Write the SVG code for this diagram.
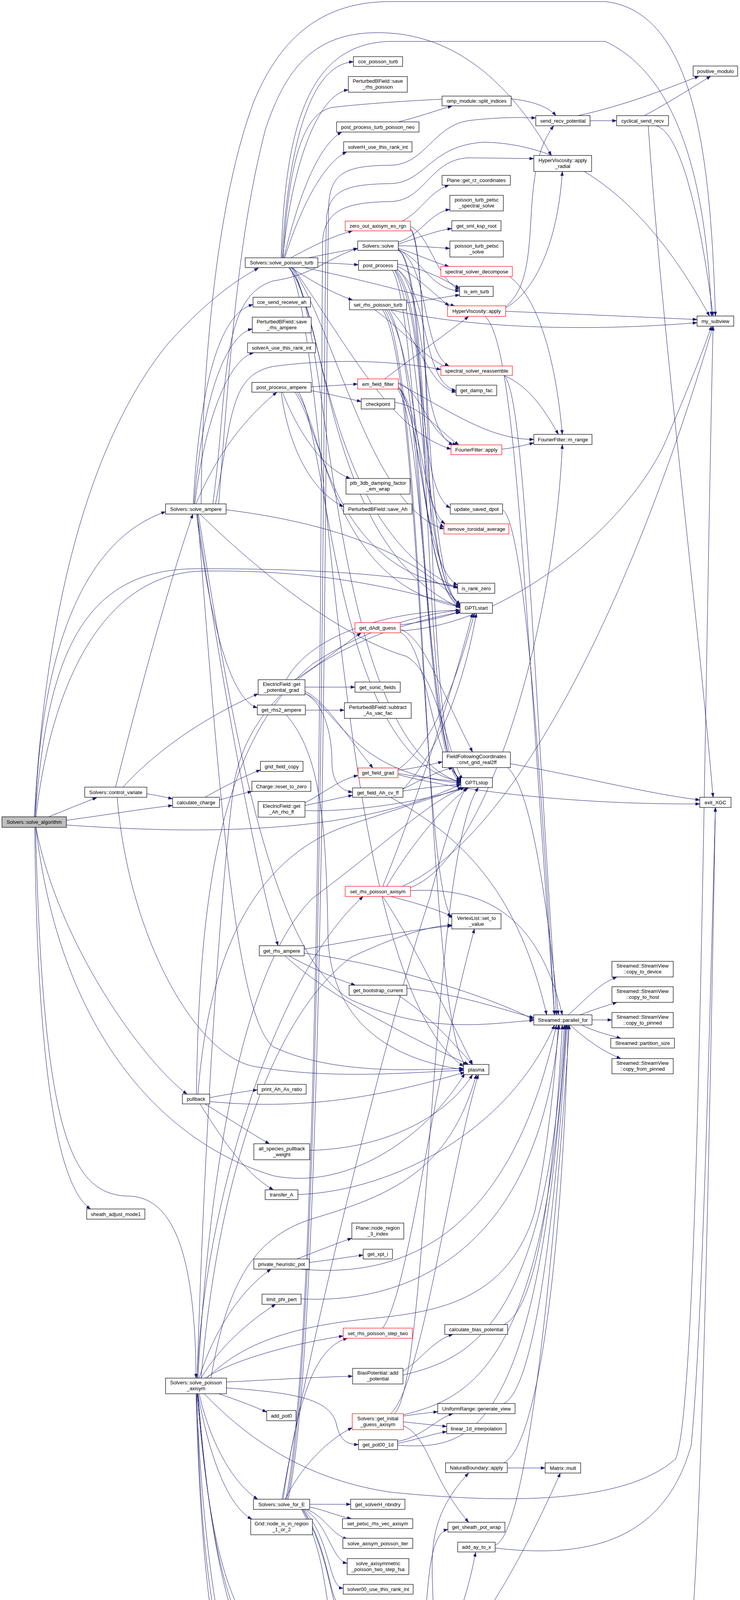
<svg xmlns="http://www.w3.org/2000/svg" width="1895" height="4575" viewBox="0 0 1895 4575">
<style>
.node rect{fill:#ffffff;stroke:#000000;stroke-width:1.2}
.node.red rect{stroke:#ff0000}
.node.root rect{fill:#bfbfbf}
.node text{font-family:"Liberation Sans",Arial,Helvetica,sans-serif;font-size:13px;fill:#000000;text-anchor:middle}
#edges path{fill:none;stroke:#191970;stroke-width:1;marker-end:url(#arr)}
</style>
<defs>
<marker id="arr" markerUnits="userSpaceOnUse" markerWidth="11" markerHeight="8" viewBox="0 0 11 8" refX="11" refY="4" orient="auto">
<path d="M0,0 L11,4 L0,8 z" fill="#191970" stroke="#191970" stroke-width="0.5"/>
</marker>
</defs>
<rect x="0" y="0" width="1895" height="4575" fill="#ffffff"/>
<g id="edges">
<path d="M 88 2091 C 120 1500 250 1100 430 880 C 530 770 600 720 662 686"/>
<path d="M 90 2091 C 105 1650 220 1380 424 1310"/>
<path d="M 125 2091 C 165 2075 205 2058 248 2042"/>
<path d="M 170 2100 C 280 2085 370 2070 442 2062"/>
<path d="M 92 2118 C 150 2420 370 2720 479 2801"/>
<path d="M 89 2118 C 95 2750 150 3040 232 3095"/>
<path d="M 91 2118 C 110 2900 180 3060 330 3062 C 440 3065 500 3200 502 3528"/>
<path d="M 515 1290 C 518 900 560 500 650 260 C 720 90 830 4 1000 4 L 1550 4 C 1780 30 1820 400 1832 809"/>
<path d="M 560 1290 C 590 900 610 600 680 330 C 730 180 800 90 950 84 C 1150 76 1300 200 1412 398"/>
<path d="M 545 1290 C 585 1000 560 760 700 719 C 800 705 840 660 916 636"/>
<path d="M 552 1290 C 595 1060 590 960 700 938 C 850 918 1000 922 1129 946"/>
<path d="M 90 2091 C 120 1700 200 1458 500 1456 C 800 1455 1000 1470 1172 1502"/>
<path d="M 92 2091 C 130 1760 260 1466 520 1462 C 800 1458 1000 1500 1178 1552"/>
<path d="M 170 2112 C 500 2135 900 2140 1180 2008"/>
<path d="M 92 2118 C 150 2620 400 2920 700 3010 C 900 3050 1100 2900 1190 2748"/>
<path d="M 296 2015 C 350 1800 430 1500 494 1316"/>
<path d="M 315 2015 C 420 1900 560 1820 661 1776"/>
<path d="M 376 2032 C 400 2036 420 2040 442 2045"/>
<path d="M 300 2041 C 330 2400 500 2700 650 2730 C 850 2765 1050 2745 1187 2740"/>
<path d="M 525 2041 C 580 2010 630 1985 667 1971"/>
<path d="M 562 2048 C 590 2040 620 2032 645 2026"/>
<path d="M 537 2810 C 580 2802 620 2795 659 2790"/>
<path d="M 525 2826 C 580 2860 640 2900 690 2928"/>
<path d="M 512 2826 C 560 2900 620 3000 700 3046"/>
<path d="M 537 2820 C 800 2845 1000 2800 1190 2745"/>
<path d="M 503 2801 C 510 2300 560 1900 800 1700 C 950 1600 1100 1570 1178 1562"/>
<path d="M 507 2801 C 530 2500 620 2200 900 2110 C 1050 2060 1150 2030 1183 2016"/>
<path d="M 495 1290 C 510 1000 560 800 648 780"/>
<path d="M 497 1290 C 515 1050 570 860 646 842"/>
<path d="M 499 1290 C 520 1100 580 920 650 903"/>
<path d="M 502 1290 C 560 1150 640 1060 709 1004"/>
<path d="M 503 1316 C 540 1600 590 1790 659 1812"/>
<path d="M 505 1316 C 560 1700 650 2200 712 2421"/>
<path d="M 579 1305 C 860 1340 1070 1420 1178 1548"/>
<path d="M 512 1316 C 700 1500 900 1640 1040 1680 C 1120 1720 1150 1950 1185 1995"/>
<path d="M 506 1316 C 560 2000 600 2600 700 2680 C 850 2750 1050 2740 1187 2735"/>
<path d="M 508 1316 C 600 1900 700 2450 900 2560 C 1100 2650 1250 2620 1367 2612"/>
<path d="M 722 660 C 740 350 800 165 905 158"/>
<path d="M 724 660 C 750 400 820 240 892 230"/>
<path d="M 727 660 C 770 480 820 370 875 338"/>
<path d="M 729 660 C 780 500 840 410 888 389"/>
<path d="M 745 660 C 800 630 850 605 903 591"/>
<path d="M 790 660 C 840 650 880 642 916 636"/>
<path d="M 814 672 C 850 674 890 676 918 678"/>
<path d="M 743 684 C 800 720 850 750 903 768"/>
<path d="M 774 684 C 900 710 1100 760 1165 784"/>
<path d="M 725 660 C 740 400 780 290 850 275 C 1000 258 1200 250 1260 250 C 1350 252 1400 270 1424 296"/>
<path d="M 720 660 C 730 300 800 110 1000 106 L 1550 106 C 1750 200 1810 500 1822 809"/>
<path d="M 740 684 C 840 800 830 1400 1178 1556"/>
<path d="M 745 684 C 850 820 840 1900 1180 2003"/>
<path d="M 738 684 C 830 780 830 1350 1172 1506"/>
<path d="M 750 684 C 900 900 1000 1100 1155 1150"/>
<path d="M 748 684 C 860 850 950 1300 1137 1354"/>
<path d="M 742 684 C 850 900 850 2500 1187 2730"/>
<path d="M 1020 312 C 1070 300 1110 285 1158 271"/>
<path d="M 1030 566 C 1080 540 1100 490 1150 474"/>
<path d="M 1051 580 C 1100 600 1120 720 1177 741"/>
<path d="M 1051 585 C 1100 620 1080 1500 1180 1550"/>
<path d="M 1051 588 C 1110 640 1085 1950 1181 1998"/>
<path d="M 1020 620 C 1080 600 1100 545 1152 536"/>
<path d="M 1020 625 C 1080 605 1120 590 1157 585"/>
<path d="M 1020 629 C 1080 630 1120 634 1152 636"/>
<path d="M 1020 636 C 1080 655 1110 672 1150 682"/>
<path d="M 1020 638 C 1100 680 1080 900 1150 937"/>
<path d="M 1020 640 C 1080 660 1100 740 1177 745"/>
<path d="M 1020 640 C 1100 680 1070 1500 1179 1548"/>
<path d="M 1020 641 C 1110 690 1075 1950 1180 1996"/>
<path d="M 1018 676 C 1100 690 1150 725 1177 737"/>
<path d="M 1018 682 C 1060 700 1120 760 1150 783"/>
<path d="M 1018 690 C 1100 750 1080 980 1168 1000"/>
<path d="M 1018 690 C 1100 760 1070 1100 1160 1139"/>
<path d="M 1015 692 C 1100 800 1060 1250 1153 1300"/>
<path d="M 1012 692 C 1100 820 1065 1300 1137 1350"/>
<path d="M 1010 692 C 1080 800 1080 1500 1180 1550"/>
<path d="M 1005 692 C 1080 820 1080 1950 1182 2000"/>
<path d="M 1041 775 C 1100 768 1140 760 1177 755"/>
<path d="M 1000 793 C 1200 840 1500 850 1785 826"/>
<path d="M 960 793 C 1050 860 1100 930 1150 940"/>
<path d="M 1000 793 C 1080 880 1100 990 1168 1004"/>
<path d="M 980 793 C 1080 950 1080 2300 1160 2350"/>
<path d="M 985 793 C 1090 950 1090 2650 1195 2728"/>
<path d="M 990 793 C 1090 950 1070 1500 1180 1556"/>
<path d="M 995 793 C 1095 950 1075 1950 1182 2005"/>
<path d="M 1295 788 C 1380 740 1430 600 1440 439"/>
<path d="M 1295 785 C 1400 700 1320 450 1418 322"/>
<path d="M 1295 797 C 1500 805 1650 812 1785 818"/>
<path d="M 1242 810 C 1320 880 1340 1500 1420 2598"/>
<path d="M 1305 708 C 1400 780 1430 1000 1440 1112"/>
<path d="M 1290 961 C 1360 990 1400 1060 1430 1112"/>
<path d="M 1290 961 C 1340 1000 1360 1600 1425 2598"/>
<path d="M 1285 1150 C 1320 1146 1340 1140 1367 1134"/>
<path d="M 985 970 C 1050 920 1150 850 1200 810"/>
<path d="M 1020 980 C 1080 1000 1100 1120 1170 1139"/>
<path d="M 1020 982 C 1150 1050 1250 1125 1367 1125"/>
<path d="M 1020 990 C 1080 1050 1080 1300 1140 1341"/>
<path d="M 1020 992 C 1080 1050 1080 1450 1172 1498"/>
<path d="M 1020 994 C 1085 1060 1085 1500 1179 1553"/>
<path d="M 1018 996 C 1090 1080 1090 1950 1182 1999"/>
<path d="M 797 990 C 850 988 880 985 916 983"/>
<path d="M 797 1000 C 850 1010 890 1020 925 1028"/>
<path d="M 723 1004 C 770 1120 830 1200 897 1225"/>
<path d="M 720 1004 C 740 1150 800 1260 880 1297"/>
<path d="M 760 1004 C 830 1100 850 1500 1178 1553"/>
<path d="M 765 1004 C 840 1120 860 1950 1181 2001"/>
<path d="M 755 1004 C 825 1100 845 1450 1172 1504"/>
<path d="M 1011 1030 C 1080 1040 1120 1100 1175 1139"/>
<path d="M 1287 1305 C 1340 1340 1380 1900 1420 2598"/>
<path d="M 755 1740 C 820 1700 880 1650 925 1620"/>
<path d="M 781 1759 L 909 1759"/>
<path d="M 781 1770 C 830 1790 900 1900 955 1966"/>
<path d="M 733 1740 C 800 1620 1000 1565 1178 1562"/>
<path d="M 781 1775 C 860 1810 900 1980 1180 2005"/>
<path d="M 781 1775 C 830 1800 850 1880 850 1950 C 850 2010 880 2025 903 2028"/>
<path d="M 782 1818 L 882 1818"/>
<path d="M 733 1830 C 820 1930 835 2100 840 2400 C 850 2650 1050 2720 1187 2738"/>
<path d="M 1025 1600 C 1100 1590 1150 1575 1178 1566"/>
<path d="M 1025 1610 C 1090 1640 1120 1750 1210 1925"/>
<path d="M 1025 1615 C 1300 1600 1600 1350 1700 1140 C 1760 1000 1800 900 1822 835"/>
<path d="M 1025 1618 C 1100 1660 1100 1950 1185 1998"/>
<path d="M 1019 1972 C 1070 1965 1100 1958 1133 1950"/>
<path d="M 1019 1970 C 1120 1900 1180 1700 1215 1570"/>
<path d="M 1019 1980 C 1080 1990 1130 1997 1180 2001"/>
<path d="M 1019 1983 C 1200 2030 1500 2060 1792 2058"/>
<path d="M 1032 2025 C 1100 2015 1150 2010 1180 2008"/>
<path d="M 1032 2020 C 1100 1950 1180 1800 1220 1570"/>
<path d="M 1032 2020 C 1080 1995 1120 1975 1160 1965"/>
<path d="M 1000 2041 C 1200 2150 1330 2300 1400 2598"/>
<path d="M 1307 1955 C 1500 1990 1650 2030 1792 2048"/>
<path d="M 1300 1965 C 1360 2020 1400 2300 1430 2598"/>
<path d="M 781 2055 C 830 2030 870 1995 917 1985"/>
<path d="M 781 2062 C 830 2052 870 2042 903 2036"/>
<path d="M 781 2075 C 900 2080 1100 2050 1190 2016"/>
<path d="M 1000 2295 C 1080 2315 1120 2330 1157 2345"/>
<path d="M 980 2295 C 1050 2400 1150 2600 1210 2725"/>
<path d="M 980 2269 C 1050 2100 1150 1800 1210 1570"/>
<path d="M 990 2269 C 1060 2150 1150 2050 1200 2016"/>
<path d="M 1030 2269 C 1300 2150 1600 1600 1826 835"/>
<path d="M 1051 2280 C 1250 2270 1380 2350 1440 2598"/>
<path d="M 1051 2272 C 1250 2200 1420 1600 1440 1138"/>
<path d="M 779 2430 C 900 2410 1050 2380 1157 2370"/>
<path d="M 740 2447 C 800 2480 870 2510 910 2522"/>
<path d="M 730 2447 C 850 2560 1100 2680 1200 2725"/>
<path d="M 779 2440 C 1000 2470 1250 2550 1367 2610"/>
<path d="M 1042 2530 C 1200 2550 1300 2590 1367 2605"/>
<path d="M 1020 2548 C 1100 2600 1170 2680 1210 2725"/>
<path d="M 1455 2598 C 1500 2560 1530 2520 1580 2501"/>
<path d="M 1485 2598 C 1520 2585 1550 2575 1580 2566"/>
<path d="M 1516 2611 L 1567 2611"/>
<path d="M 1490 2624 C 1520 2640 1560 2650 1590 2658"/>
<path d="M 1460 2624 C 1500 2660 1540 2690 1590 2710"/>
<path d="M 793 2945 C 1000 2940 1150 2850 1210 2751"/>
<path d="M 763 3058 C 1000 3050 1300 2900 1420 2624"/>
<path d="M 760 3223 C 820 3200 870 3180 901 3170"/>
<path d="M 792 3232 C 850 3225 890 3218 930 3213"/>
<path d="M 770 3249 C 1000 3270 1300 3200 1425 2624"/>
<path d="M 771 3325 C 1050 3340 1380 3200 1432 2624"/>
<path d="M 980 3400 C 1050 3300 1100 2800 1215 2378"/>
<path d="M 1290 3391 C 1380 3350 1420 3000 1440 2624"/>
<path d="M 1032 3510 C 1080 3480 1110 3430 1160 3416"/>
<path d="M 1032 3520 C 1200 3480 1400 3400 1445 2624"/>
<path d="M 1033 3625 C 1070 3620 1100 3616 1121 3614"/>
<path d="M 1033 3640 C 1080 3645 1110 3648 1144 3652"/>
<path d="M 1033 3650 C 1100 3680 1100 3780 1200 3897"/>
<path d="M 1010 3619 C 1100 3540 1100 2200 1225 2016"/>
<path d="M 1000 3619 C 1080 3550 1150 3000 1225 2751"/>
<path d="M 1033 3622 C 1200 3580 1400 3500 1448 2624"/>
<path d="M 1018 3690 C 1080 3680 1120 3630 1160 3619"/>
<path d="M 1018 3695 C 1070 3685 1110 3670 1144 3665"/>
<path d="M 1018 3700 C 1200 3710 1380 3700 1450 2624"/>
<path d="M 1290 3593 C 1380 3550 1430 3000 1452 2624"/>
<path d="M 1299 3758 L 1396 3758"/>
<path d="M 1290 3745 C 1380 3700 1440 3200 1455 2624"/>
<path d="M 1268 3955 C 1330 3940 1400 3500 1458 2624"/>
<path d="M 1268 3963 C 1500 3990 1700 3950 1770 3700 C 1800 3400 1820 2500 1832 2067"/>
<path d="M 791 4480 C 1000 4440 1200 4300 1435 3771"/>
<path d="M 505 3528 C 520 3100 700 2500 930 2295"/>
<path d="M 510 3528 C 550 3400 620 3300 694 3249"/>
<path d="M 515 3528 C 560 3450 640 3380 706 3339"/>
<path d="M 525 3528 C 600 3480 750 3440 879 3420"/>
<path d="M 580 3538 C 700 3532 800 3526 903 3523"/>
<path d="M 560 3568 C 610 3585 650 3600 683 3615"/>
<path d="M 580 3553 C 750 3565 840 3580 860 3640 C 870 3690 890 3698 918 3698"/>
<path d="M 510 3568 C 540 3700 600 3800 660 3838"/>
<path d="M 507 3568 C 540 3750 590 3860 645 3889"/>
<path d="M 503 3568 C 520 4000 580 4380 660 4415"/>
<path d="M 502 3568 C 515 4100 570 4430 651 4475"/>
<path d="M 505 3568 C 540 4000 600 4240 800 4270 C 950 4290 1060 4260 1080 4200 C 1100 4100 1090 3930 1147 3915"/>
<path d="M 506 3568 C 545 4050 610 4290 800 4310 C 1000 4330 1110 4300 1110 4150 C 1110 4000 1080 3900 1200 3771"/>
<path d="M 507 3568 C 550 4100 620 4330 800 4350 C 1000 4370 1150 4330 1218 3974"/>
<path d="M 504 3568 C 520 4300 620 4560 900 4545 C 1300 4540 1720 4540 1770 4200 C 1800 3800 1815 3000 1832 2067"/>
<path d="M 523 3568 C 650 3700 800 3790 1000 3820 C 1300 3850 1600 3850 1730 3735 C 1790 3600 1800 2000 1826 835"/>
<path d="M 540 3528 C 580 3300 640 3170 800 3120 C 1000 3060 1150 3000 1220 2751"/>
<path d="M 505 3528 C 520 3000 560 2300 600 2000 C 660 1700 1000 1600 1182 1566"/>
<path d="M 507 3528 C 530 3100 600 2500 800 2300 C 1000 2150 1100 2050 1190 2016"/>
<path d="M 515 3528 C 560 3000 700 2600 900 2450 C 1050 2380 1120 2370 1157 2368"/>
<path d="M 530 3528 C 600 3460 700 3400 945 3376 C 1100 3360 1300 3340 1370 3100 C 1410 2900 1425 2700 1430 2624"/>
<path d="M 793 3851 L 898 3851"/>
<path d="M 793 3858 C 830 3865 860 3880 900 3888"/>
<path d="M 785 3864 C 830 3880 850 3930 890 3940"/>
<path d="M 780 3864 C 840 3900 850 3995 889 4002"/>
<path d="M 778 3864 C 850 3950 840 4062 879 4066"/>
<path d="M 776 3864 C 850 3980 840 4112 880 4116"/>
<path d="M 774 3864 C 860 4000 840 4165 905 4168"/>
<path d="M 772 3864 C 860 4020 820 4216 897 4219"/>
<path d="M 730 3838 C 780 3740 850 3680 902 3655"/>
<path d="M 725 3838 C 760 3600 800 3450 890 3426"/>
<path d="M 722 3838 C 800 3400 1000 2600 1100 2300 C 1140 2150 1170 2050 1195 2016"/>
<path d="M 735 3838 C 830 3400 826 900 836 560 C 842 480 900 472 1000 470 C 1090 468 1100 372 1240 364 C 1500 370 1680 560 1817 809"/>
<path d="M 732 3838 C 826 3400 822 1000 826 620 C 830 530 900 518 1000 516 C 1090 514 1100 408 1200 404 L 1367 406"/>
<path d="M 738 3838 C 836 3400 832 900 842 520 C 848 440 890 424 1000 423 C 1090 422 1110 318 1206 308 C 1280 300 1330 300 1372 302"/>
<path d="M 1650 296 C 1700 270 1780 220 1820 195"/>
<path d="M 1680 322 C 1750 340 1800 600 1826 809"/>
<path d="M 1660 322 C 1700 900 1780 1500 1826 2041"/>
<path d="M 1511 309 L 1579 309"/>
<path d="M 1480 296 C 1600 270 1700 230 1790 195"/>
</g>
<g id="n_solve_algorithm" class="node root"><rect x="5" y="2091" width="165" height="27"/><text x="87.5" y="2109">Solvers::solve_algorithm</text></g>
<g id="n_control_variate" class="node"><rect x="217" y="2015" width="159" height="26"/><text x="296.5" y="2032.5">Solvers::control_variate</text></g>
<g id="n_calculate_charge" class="node"><rect x="442" y="2041" width="120" height="26"/><text x="502" y="2058.5">calculate_charge</text></g>
<g id="n_pullback" class="node"><rect x="467" y="2801" width="70" height="25"/><text x="502" y="2818">pullback</text></g>
<g id="n_sheath_adjust_mode1" class="node"><rect x="222" y="3095" width="149" height="26"/><text x="296.5" y="3112.5">sheath_adjust_mode1</text></g>
<g id="n_solve_poisson_turb" class="node"><rect x="628" y="660" width="186" height="25"/><text x="721" y="677">Solvers::solve_poisson_turb</text></g>
<g id="n_solve_ampere" class="node"><rect x="424" y="1290" width="155" height="26"/><text x="501.5" y="1307.5">Solvers::solve_ampere</text></g>
<g id="n_solve_poisson_axisym" class="node"><rect x="424" y="3528" width="156" height="40"/><text x="502" y="3544">Solvers::solve_poisson</text><text x="502" y="3559">_axisym</text></g>
<g id="n_cce_send_receive_ah" class="node"><rect x="648" y="761" width="147" height="25"/><text x="721.5" y="778">cce_send_receive_ah</text></g>
<g id="n_save_rhs_ampere" class="node"><rect x="646" y="812" width="151" height="40"/><text x="721.5" y="828">PerturbedBField::save</text><text x="721.5" y="843">_rhs_ampere</text></g>
<g id="n_solverA_use_this_rank_int" class="node"><rect x="634" y="878" width="174" height="25"/><text x="721" y="895">solverA_use_this_rank_int</text></g>
<g id="n_post_process_ampere" class="node"><rect x="645" y="979" width="152" height="25"/><text x="721" y="996">post_process_ampere</text></g>
<g id="n_get_potential_grad" class="node"><rect x="661" y="1740" width="120" height="39"/><text x="721" y="1755.5">ElectricField::get</text><text x="721" y="1770.5">_potential_grad</text></g>
<g id="n_get_rhs2_ampere" class="node"><rect x="659" y="1805" width="123" height="25"/><text x="720.5" y="1822">get_rhs2_ampere</text></g>
<g id="n_grid_field_copy" class="node"><rect x="667" y="1949" width="109" height="26"/><text x="721.5" y="1966.5">grid_field_copy</text></g>
<g id="n_reset_to_zero" class="node"><rect x="645" y="2000" width="151" height="26"/><text x="720.5" y="2017.5">Charge::reset_to_zero</text></g>
<g id="n_get_Ah_rho_ff" class="node"><rect x="661" y="2052" width="120" height="40"/><text x="721" y="2068">ElectricField::get</text><text x="721" y="2083">_Ah_rho_ff</text></g>
<g id="n_get_rhs_ampere" class="node"><rect x="664" y="2421" width="115" height="26"/><text x="721.5" y="2438.5">get_rhs_ampere</text></g>
<g id="n_print_Ah_As_ratio" class="node"><rect x="659" y="2776" width="125" height="25"/><text x="721.5" y="2793">print_Ah_As_ratio</text></g>
<g id="n_all_species_pullback_weight" class="node"><rect x="650" y="2928" width="143" height="41"/><text x="721.5" y="2944.5">all_species_pullback</text><text x="721.5" y="2959.5">_weight</text></g>
<g id="n_transfer_A" class="node"><rect x="679" y="3046" width="84" height="25"/><text x="721" y="3063">transfer_A</text></g>
<g id="n_private_heuristic_pot" class="node"><rect x="650" y="3223" width="142" height="26"/><text x="721" y="3240.5">private_heuristic_pot</text></g>
<g id="n_limit_phi_pert" class="node"><rect x="671" y="3313" width="100" height="26"/><text x="721" y="3330.5">limit_phi_pert</text></g>
<g id="n_add_pot0" class="node"><rect x="683" y="3611" width="75" height="26"/><text x="720.5" y="3628.5">add_pot0</text></g>
<g id="n_solve_for_E" class="node"><rect x="649" y="3838" width="144" height="26"/><text x="721" y="3855.5">Solvers::solve_for_E</text></g>
<g id="n_node_is_in_region" class="node"><rect x="642" y="3889" width="158" height="40"/><text x="721" y="3905">Grid::node_is_in_region</text><text x="721" y="3920">_1_or_2</text></g>
<g id="n_positive_phi00_sol" class="node"><rect x="657" y="4411" width="128" height="26"/><text x="721" y="4428.5">positive_phi00_sol</text></g>
<g id="n_poloidal_smoothing_apply" class="node"><rect x="651" y="4462" width="140" height="41"/><text x="721" y="4478.5">PoloidalSmoothing::</text><text x="721" y="4493.5">apply</text></g>
<g id="n_cce_poisson_turb" class="node"><rect x="905" y="145" width="126" height="25"/><text x="968" y="162">cce_poisson_turb</text></g>
<g id="n_save_rhs_poisson" class="node"><rect x="892" y="196" width="151" height="40"/><text x="967.5" y="212">PerturbedBField::save</text><text x="967.5" y="227">_rhs_poisson</text></g>
<g id="n_post_process_turb_poisson_neo" class="node"><rect x="862" y="312" width="211" height="26"/><text x="967.5" y="329.5">post_process_turb_poisson_neo</text></g>
<g id="n_solverH_use_this_rank_int_a" class="node"><rect x="880" y="363" width="175" height="26"/><text x="967.5" y="380.5">solverH_use_this_rank_int</text></g>
<g id="n_zero_out_axisym_es_rgn" class="node red"><rect x="884" y="566" width="167" height="25"/><text x="967.5" y="583">zero_out_axisym_es_rgn</text></g>
<g id="n_solvers_solve" class="node"><rect x="916" y="617" width="104" height="24"/><text x="968" y="633.5">Solvers::solve</text></g>
<g id="n_post_process" class="node"><rect x="918" y="667" width="100" height="25"/><text x="968" y="684">post_process</text></g>
<g id="n_set_rhs_poisson_turb" class="node"><rect x="895" y="768" width="146" height="25"/><text x="968" y="785">set_rhs_poisson_turb</text></g>
<g id="n_em_field_filter" class="node red"><rect x="916" y="970" width="104" height="26"/><text x="968" y="987.5">em_field_filter</text></g>
<g id="n_checkpoint" class="node"><rect x="925" y="1021" width="86" height="26"/><text x="968" y="1038.5">checkpoint</text></g>
<g id="n_ptb_3db_damping" class="node"><rect x="886" y="1225" width="164" height="40"/><text x="968" y="1241">ptb_3db_damping_factor</text><text x="968" y="1256">_em_wrap</text></g>
<g id="n_save_Ah" class="node"><rect x="880" y="1290" width="175" height="26"/><text x="967.5" y="1307.5">PerturbedBField::save_Ah</text></g>
<g id="n_get_dAdt_guess" class="node red"><rect x="909" y="1594" width="116" height="26"/><text x="967" y="1611.5">get_dAdt_guess</text></g>
<g id="n_get_sonic_fields" class="node"><rect x="909" y="1746" width="116" height="26"/><text x="967" y="1763.5">get_sonic_fields</text></g>
<g id="n_subtract_As_vac_fac" class="node"><rect x="882" y="1799" width="171" height="40"/><text x="967.5" y="1815">PerturbedBField::subtract</text><text x="967.5" y="1830">_As_vac_fac</text></g>
<g id="n_get_field_grad" class="node red"><rect x="917" y="1966" width="102" height="25"/><text x="968" y="1983">get_field_grad</text></g>
<g id="n_get_field_Ah_cv_ff" class="node"><rect x="903" y="2017" width="129" height="24"/><text x="967.5" y="2033.5">get_field_Ah_cv_ff</text></g>
<g id="n_set_rhs_poisson_axisym" class="node red"><rect x="884" y="2269" width="167" height="26"/><text x="967.5" y="2286.5">set_rhs_poisson_axisym</text></g>
<g id="n_get_bootstrap_current" class="node"><rect x="894" y="2522" width="148" height="26"/><text x="968" y="2539.5">get_bootstrap_current</text></g>
<g id="n_node_region_3_index" class="node"><rect x="901" y="3131" width="133" height="41"/><text x="967.5" y="3147.5">Plane::node_region</text><text x="967.5" y="3162.5">_3_index</text></g>
<g id="n_get_xpt_i" class="node"><rect x="930" y="3198" width="75" height="25"/><text x="967.5" y="3215">get_xpt_i</text></g>
<g id="n_set_rhs_poisson_step_two" class="node red"><rect x="879" y="3400" width="177" height="26"/><text x="967.5" y="3417.5">set_rhs_poisson_step_two</text></g>
<g id="n_bias_add_potential" class="node"><rect x="903" y="3503" width="129" height="40"/><text x="967.5" y="3519">BiasPotential::add</text><text x="967.5" y="3534">_potential</text></g>
<g id="n_get_initial_guess_axisym" class="node red"><rect x="902" y="3619" width="131" height="41"/><text x="967.5" y="3635.5">Solvers::get_initial</text><text x="967.5" y="3650.5">_guess_axisym</text></g>
<g id="n_get_pot00_1d" class="node"><rect x="918" y="3686" width="100" height="25"/><text x="968" y="3703">get_pot00_1d</text></g>
<g id="n_get_solverH_nbndry" class="node"><rect x="898" y="3838" width="139" height="26"/><text x="967.5" y="3855.5">get_solverH_nbndry</text></g>
<g id="n_set_petsc_rhs_vec_axisym" class="node"><rect x="877" y="3888" width="180" height="25"/><text x="967" y="3905">set_petsc_rhs_vec_axisym</text></g>
<g id="n_solve_axisym_poisson_iter" class="node"><rect x="878" y="3938" width="179" height="26"/><text x="967.5" y="3955.5">solve_axisym_poisson_iter</text></g>
<g id="n_solve_axisymmetric_two_step" class="node"><rect x="889" y="3990" width="158" height="41"/><text x="968" y="4006.5">solve_axisymmetric</text><text x="968" y="4021.5">_poisson_two_step_fsa</text></g>
<g id="n_solver00_use_this_rank_int" class="node"><rect x="879" y="4056" width="179" height="25"/><text x="968.5" y="4073">solver00_use_this_rank_int</text></g>
<g id="n_solverH_use_this_rank_int_b" class="node"><rect x="880" y="4106" width="175" height="26"/><text x="967.5" y="4123.5">solverH_use_this_rank_int</text></g>
<g id="n_get_sml_ksp_root_b" class="node"><rect x="905" y="4157" width="126" height="26"/><text x="968" y="4174.5">get_sml_ksp_root</text></g>
<g id="n_get_solver00_nbndry" class="node"><rect x="897" y="4208" width="143" height="26"/><text x="968.5" y="4225.5">get_solver00_nbndry</text></g>
<g id="n_split_indices" class="node"><rect x="1132" y="246" width="177" height="25"/><text x="1220.5" y="263">omp_module::split_indices</text></g>
<g id="n_get_rz_coordinates" class="node"><rect x="1132" y="449" width="175" height="25"/><text x="1219.5" y="466">Plane::get_rz_coordinates</text></g>
<g id="n_petsc_spectral_solve" class="node"><rect x="1152" y="500" width="137" height="40"/><text x="1220.5" y="516">poisson_turb_petsc</text><text x="1220.5" y="531">_spectral_solve</text></g>
<g id="n_get_sml_ksp_root_a" class="node"><rect x="1157" y="565" width="126" height="26"/><text x="1220" y="582.5">get_sml_ksp_root</text></g>
<g id="n_petsc_solve" class="node"><rect x="1152" y="617" width="137" height="41"/><text x="1220.5" y="633.5">poisson_turb_petsc</text><text x="1220.5" y="648.5">_solve</text></g>
<g id="n_spectral_solver_decompose" class="node red"><rect x="1129" y="682" width="183" height="26"/><text x="1220.5" y="699.5">spectral_solver_decompose</text></g>
<g id="n_is_em_turb" class="node"><rect x="1177" y="733" width="86" height="26"/><text x="1220" y="750.5">is_em_turb</text></g>
<g id="n_hyperviscosity_apply" class="node red"><rect x="1146" y="783" width="149" height="27"/><text x="1220.5" y="801">HyperViscosity::apply</text></g>
<g id="n_spectral_solver_reassemble" class="node red"><rect x="1129" y="937" width="183" height="24"/><text x="1220.5" y="953.5">spectral_solver_reassemble</text></g>
<g id="n_get_damp_fac" class="node"><rect x="1168" y="986" width="104" height="27"/><text x="1220" y="1004">get_damp_fac</text></g>
<g id="n_fourierfilter_apply" class="node red"><rect x="1155" y="1139" width="130" height="25"/><text x="1220" y="1156">FourierFilter::apply</text></g>
<g id="n_update_saved_dpot" class="node"><rect x="1153" y="1290" width="134" height="26"/><text x="1220" y="1307.5">update_saved_dpot</text></g>
<g id="n_remove_toroidal_average" class="node red"><rect x="1137" y="1341" width="166" height="26"/><text x="1220" y="1358.5">remove_toroidal_average</text></g>
<g id="n_is_rank_zero" class="node"><rect x="1172" y="1493" width="95" height="26"/><text x="1219.5" y="1510.5">is_rank_zero</text></g>
<g id="n_gptlstart" class="node"><rect x="1178" y="1543" width="83" height="27"/><text x="1219.5" y="1561">GPTLstart</text></g>
<g id="n_cnvt_grid_real2ff" class="node"><rect x="1133" y="1925" width="174" height="40"/><text x="1220" y="1941">FieldFollowingCoordinates</text><text x="1220" y="1956">::cnvt_grid_real2ff</text></g>
<g id="n_gptlstop" class="node"><rect x="1180" y="1991" width="81" height="25"/><text x="1220.5" y="2008">GPTLstop</text></g>
<g id="n_vertexlist_set_to_value" class="node"><rect x="1157" y="2339" width="126" height="39"/><text x="1220" y="2354.5">VertexList::set_to</text><text x="1220" y="2369.5">_value</text></g>
<g id="n_plasma" class="node"><rect x="1187" y="2725" width="65" height="26"/><text x="1219.5" y="2742.5">plasma</text></g>
<g id="n_calculate_bias_potential" class="node"><rect x="1139" y="3391" width="161" height="25"/><text x="1219.5" y="3408">calculate_bias_potential</text></g>
<g id="n_generate_view" class="node"><rect x="1121" y="3593" width="198" height="26"/><text x="1220" y="3610.5">UniformRange::generate_view</text></g>
<g id="n_linear_1d_interpolation" class="node"><rect x="1144" y="3644" width="152" height="26"/><text x="1220" y="3661.5">linear_1d_interpolation</text></g>
<g id="n_naturalboundary_apply" class="node"><rect x="1141" y="3745" width="158" height="25"/><text x="1220" y="3762">NaturalBoundary::apply</text></g>
<g id="n_get_sheath_pot_wrap" class="node"><rect x="1147" y="3897" width="146" height="25"/><text x="1220" y="3914">get_sheath_pot_wrap</text></g>
<g id="n_add_ay_to_x" class="node"><rect x="1172" y="3948" width="96" height="25"/><text x="1220" y="3965">add_ay_to_x</text></g>
<g id="n_send_recv_potential" class="node"><rect x="1372" y="296" width="139" height="26"/><text x="1441.5" y="313.5">send_recv_potential</text></g>
<g id="n_apply_radial" class="node"><rect x="1367" y="398" width="148" height="41"/><text x="1441" y="414.5">HyperViscosity::apply</text><text x="1441" y="429.5">_radial</text></g>
<g id="n_m_range" class="node"><rect x="1367" y="1112" width="149" height="26"/><text x="1441.5" y="1129.5">FourierFilter::m_range</text></g>
<g id="n_parallel_for" class="node"><rect x="1367" y="2598" width="149" height="26"/><text x="1441.5" y="2615.5">Streamed::parallel_for</text></g>
<g id="n_matrix_mult" class="node"><rect x="1396" y="3745" width="91" height="26"/><text x="1441.5" y="3762.5">Matrix::mult</text></g>
<g id="n_cyclical_send_recv" class="node"><rect x="1579" y="296" width="133" height="26"/><text x="1645.5" y="313.5">cyclical_send_recv</text></g>
<g id="n_copy_to_device" class="node"><rect x="1567" y="2461" width="157" height="40"/><text x="1645.5" y="2477">Streamed::StreamView</text><text x="1645.5" y="2492">::copy_to_device</text></g>
<g id="n_copy_to_host" class="node"><rect x="1567" y="2526" width="157" height="40"/><text x="1645.5" y="2542">Streamed::StreamView</text><text x="1645.5" y="2557">::copy_to_host</text></g>
<g id="n_copy_to_pinned" class="node"><rect x="1567" y="2592" width="157" height="39"/><text x="1645.5" y="2607.5">Streamed::StreamView</text><text x="1645.5" y="2622.5">::copy_to_pinned</text></g>
<g id="n_partition_size" class="node"><rect x="1564" y="2658" width="163" height="25"/><text x="1645.5" y="2675">Streamed::partition_size</text></g>
<g id="n_copy_from_pinned" class="node"><rect x="1567" y="2710" width="157" height="39"/><text x="1645.5" y="2725.5">Streamed::StreamView</text><text x="1645.5" y="2740.5">::copy_from_pinned</text></g>
<g id="n_positive_modulo" class="node"><rect x="1775" y="169" width="114" height="26"/><text x="1832" y="186.5">positive_modulo</text></g>
<g id="n_my_subview" class="node"><rect x="1785" y="809" width="94" height="26"/><text x="1832" y="826.5">my_subview</text></g>
<g id="n_exit_XGC" class="node"><rect x="1792" y="2041" width="80" height="26"/><text x="1832" y="2058.5">exit_XGC</text></g>
</svg>
